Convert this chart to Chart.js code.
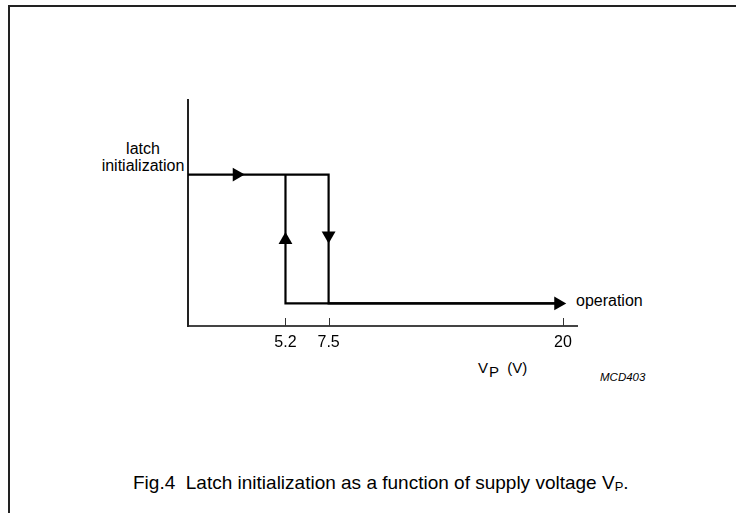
<!DOCTYPE html>
<html>
<head>
<meta charset="utf-8">
<script src="https://cdn.jsdelivr.net/npm/chart.js@4"></script>
<style>
  html, body { margin: 0; padding: 0; background: #fff; }
  #page { position: relative; width: 736px; height: 513px; overflow: hidden; font-family: 'Liberation Sans', Arial, sans-serif; color: #000; }
  #frame { position: absolute; left: 8px; top: 5px; width: 800px; height: 600px; border-top: 2px solid #222; border-left: 2px solid #222; }
  #chartBox { position: absolute; left: 0; top: 0; width: 736px; height: 513px; }
  .lbl { position: absolute; line-height: 1; white-space: nowrap; font-size: 16px; }
</style>
</head>
<body>
<div id="page">
  <div id="frame"></div>
  <div class="lbl" style="left:99px; top:140px; width:88px; text-align:center; line-height:17px;">latch<br>initialization</div>
  <div class="lbl" style="left:576px; top:293px;">operation</div>
  <div class="lbl" style="left:478px; top:360px; font-size:15px;">V<span style="position:relative; top:4px; margin-left:1px;">P</span>&nbsp;&nbsp;(V)</div>
  <div class="lbl" style="left:600px; top:372px; font-size:11.5px; font-style:italic;">MCD403</div>
  <div class="lbl" style="left:133px; top:473px; font-size:19px;">Fig.4&nbsp;&nbsp;Latch initialization as a function of supply voltage V<span style="font-size:13px; position:relative; top:2px;">P</span>.</div>
  <div id="chartBox"><canvas id="chartLatch" width="736" height="513"></canvas></div>
</div>
<script>
// supply voltage V_P (V) on x, state level on y (latch init high, operation low)
const vpTicks = [5.2, 7.5, 20];
const risingX = [0, 7.5, 7.5, 20];
const risingY = [6.7, 6.7, 1.0, 1.0];
const fallingX = [20, 5.2, 5.2];
const fallingY = [1.0, 1.0, 6.7];
const arrowX = [2.6, 5.2, 7.5, 19.75];
const arrowY = [6.7, 3.8, 4.0, 1.0];
const arrowDir = [90, 0, 180, 90];

const pts = (xs, ys) => xs.map((x, i) => ({ x: x, y: ys[i] }));

// small tick marks pointing up into the plot
const innerTicks = {
    id: 'innerTicks',
    afterDraw(chart) {
        const c = chart.ctx;
        const sx = chart.scales.x;
        const y0 = chart.chartArea.bottom;
        c.save();
        c.strokeStyle = '#333';
        c.lineWidth = 1;
        vpTicks.forEach(v => {
            const px = Math.round(sx.getPixelForValue(v)) + 0.5;
            c.beginPath();
            c.moveTo(px, y0);
            c.lineTo(px, y0 - 8);
            c.stroke();
        });
        c.restore();
    }
};

const ctx = document.getElementById('chartLatch').getContext('2d');
const chartLatch = new Chart(ctx, {
    type: 'scatter',
    data: {
        datasets: [
            {
                data: pts(risingX, risingY),
                showLine: true,
                borderColor: '#000',
                borderWidth: 2.2,
                pointRadius: 0,
                clip: false
            },
            {
                data: pts(fallingX, fallingY),
                showLine: true,
                borderColor: '#000',
                borderWidth: 2.2,
                pointRadius: 0,
                clip: false
            },
            {
                data: pts(arrowX, arrowY),
                showLine: false,
                pointStyle: 'triangle',
                pointRadius: 8,
                rotation: arrowDir,
                backgroundColor: '#000',
                borderWidth: 0,
                clip: false
            }
        ]
    },
    options: {
        responsive: false,
        animation: false,
        layout: { padding: { left: 188, right: 159, top: 100, bottom: 157 } },
        plugins: {
            legend: { display: false },
            tooltip: { enabled: false }
        },
        scales: {
            x: {
                type: 'linear',
                min: 0,
                max: 20.75,
                afterBuildTicks: s => { s.ticks = vpTicks.map(v => ({ value: v })); },
                afterFit: s => { s.height = 30; },
                ticks: {
                    autoSkip: false,
                    maxRotation: 0,
                    padding: 7,
                    color: '#000',
                    font: { family: 'Liberation Sans', size: 16 },
                    callback: v => String(v)
                },
                grid: { display: false, drawTicks: false },
                border: { display: true, color: '#444', width: 2 }
            },
            y: {
                min: 0,
                max: 10,
                afterFit: s => { s.width = 0; },
                ticks: { display: false },
                grid: { display: false, drawTicks: false },
                border: { display: true, color: '#222', width: 2 }
            }
        }
    },
    plugins: [innerTicks]
});
</script>
</body>
</html>
